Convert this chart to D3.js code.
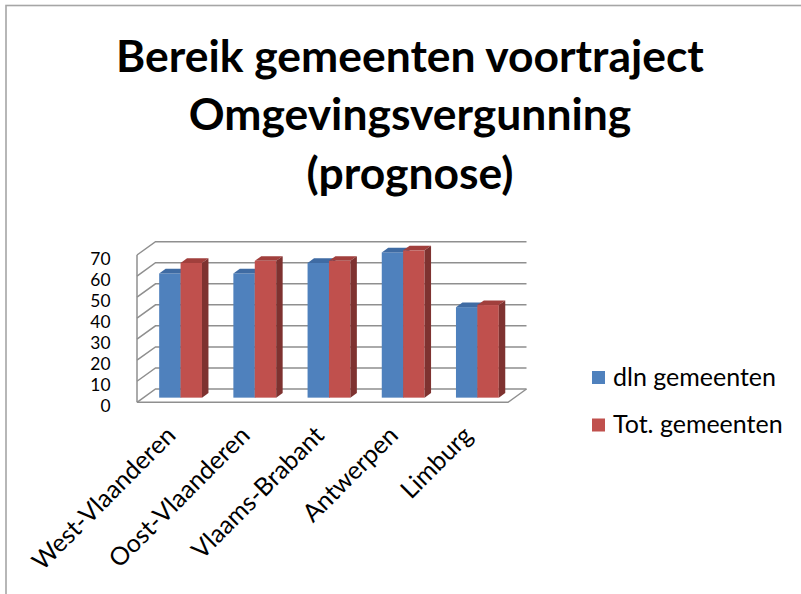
<!DOCTYPE html>
<html><head><meta charset="utf-8">
<script src="https://cdn.jsdelivr.net/npm/d3@7"></script>
<style>body{margin:0;background:#fff;overflow:hidden} svg{display:block}</style>
</head><body><svg id="c" width="801" height="594"></svg>
<script>
const categories = ["West-Vlaanderen","Oost-Vlaanderen","Vlaams-Brabant","Antwerpen","Limburg"];
const seriesNames = ["dln gemeenten","Tot. gemeenten"];
const dlnValues = [59,59,64,69,43];
const totValues = [64,65,65,70,44];
const yTicks = [0,10,20,30,40,50,60,70];
const titleLines = ["Bereik gemeenten voortraject","Omgevingsvergunning","(prognose)"];

const FONT = "Lato, 'Open Sans', sans-serif";
const svg = d3.select("#c");

function fitSize(text, weight, target){
  const t = svg.append("text").attr("font-family",FONT).attr("font-weight",weight).attr("font-size",100).text(text);
  const w = t.node().getComputedTextLength(); t.remove();
  return 100*target/w;
}

// outer border
svg.append("rect").attr("x",6).attr("y",5.5).attr("width",820).attr("height",620)
  .attr("fill","none").attr("stroke","#a6a6a6").attr("stroke-width",1.6);

// title
const titleSize = fitSize(titleLines[0], 700, 588);
svg.append("g").selectAll("text").data(titleLines).join("text")
  .attr("x",410).attr("y",(d,i)=>72+i*58.3)
  .attr("text-anchor","middle").attr("font-family",FONT).attr("font-weight",700)
  .attr("font-size",titleSize).attr("fill","#000").text(d=>d);

// scales
const x0 = d3.scaleBand().domain(categories).range([137,508]);
const x1 = d3.scaleBand().domain(seriesNames).range([0,x0.bandwidth()]).paddingOuter(0.733).paddingInner(0);
const y = d3.scaleLinear().domain([0,70]).range([402.3,255]);
const DX = 18.5, DY = -13.3;
const f1 = 0.35, f2 = 0.70;

const grid = svg.append("g").attr("fill","none").attr("stroke","#8f8f8f").attr("stroke-width",1.5);
// floor
grid.append("path").attr("d",
  `M${x0.range()[0]},${y(0)} L${x0.range()[1]},${y(0)} L${x0.range()[1]+DX},${y(0)+DY}`);
// gridlines: left wall + back wall
grid.selectAll("path.g").data(yTicks).join("path").attr("class","g")
  .attr("d",v=>`M${x0.range()[0]},${y(v)} L${x0.range()[0]+DX},${y(v)+DY} L${x0.range()[1]+DX},${y(v)+DY}`);
// value axis line
grid.append("line").attr("x1",x0.range()[0]).attr("x2",x0.range()[0]).attr("y1",y(0)).attr("y2",y(70));

// y tick labels
svg.append("g").selectAll("text").data(yTicks).join("text")
  .attr("x",110.5).attr("y",v=>y(v)+3.5).attr("dy","0.36em")
  .attr("text-anchor","end").attr("font-family",FONT).attr("font-size",17.4).attr("fill","#000")
  .text(v=>v);

// bars
const colors = {
  "dln gemeenten": {front:"#4F81BD", top:"#3F6BA3", side:"#375C89"},
  "Tot. gemeenten": {front:"#C0504D", top:"#A13F3C", side:"#7E3230"}
};
const rows = categories.map((c,i)=>({cat:c, values:[{s:seriesNames[0],v:dlnValues[i]},{s:seriesNames[1],v:totValues[i]}]}));
const bars = svg.append("g");
rows.forEach(r=>{
  r.values.forEach(d=>{
    const xl = x0(r.cat)+x1(d.s)+DX*f1, xr = xl + x1.bandwidth();
    const yt = y(d.v)+DY*f1, yb = y(0)+DY*f1;
    const ddx = DX*(f2-f1), ddy = DY*(f2-f1);
    const g = bars.append("g");
    g.append("rect").attr("x",xl).attr("y",yt).attr("width",xr-xl).attr("height",yb-yt).attr("fill",colors[d.s].front);
    g.append("path").attr("d",`M${xl},${yt} L${xl+ddx},${yt+ddy} L${xr+ddx},${yt+ddy} L${xr},${yt}Z`).attr("fill",colors[d.s].top);
    g.append("path").attr("d",`M${xr},${yt} L${xr+ddx},${yt+ddy} L${xr+ddx},${yb+ddy} L${xr},${yb}Z`).attr("fill",colors[d.s].side);
  });
});

// category labels
const labSize = fitSize("dln gemeenten", 400, 163);
svg.append("g").selectAll("text").data(categories).join("text")
  .attr("transform",c=>`translate(${x0(c)+x0.bandwidth()/2+3},437) rotate(-45)`)
  .attr("text-anchor","end").attr("font-family",FONT).attr("font-size",labSize).attr("fill","#000")
  .text(c=>c);

// legend
const leg = svg.append("g").selectAll("g").data(seriesNames).join("g")
  .attr("transform",(d,i)=>`translate(592,${371+i*47.5})`);
leg.append("rect").attr("width",13).attr("height",13).attr("fill",d=>colors[d].front);
leg.append("text").attr("x",21).attr("y",14.5).attr("font-family",FONT).attr("font-size",labSize)
  .attr("fill","#000").text(d=>d);
</script>
</body></html>
